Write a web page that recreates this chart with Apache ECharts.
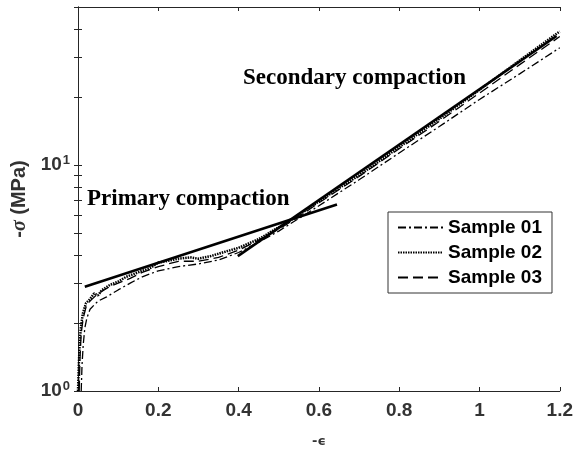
<!DOCTYPE html>
<html>
<head>
<meta charset="utf-8">
<script src="https://cdn.jsdelivr.net/npm/echarts@6/dist/echarts.min.js"></script>
<style>
  html, body { margin: 0; padding: 0; background: #fff; }
  #ch { width: 576px; height: 453px; }
</style>
</head>
<body>
<div id="ch"></div>
<script>
// strain (-eps) and stress (-sigma, MPa)
var s01x = [0.008, 0.010, 0.013, 0.017, 0.022, 0.030, 0.040, 0.050, 0.070, 0.100, 0.130, 0.160, 0.200, 0.250, 0.300, 0.350, 0.400, 0.450, 0.500, 0.550, 0.600, 0.700, 0.800, 0.900, 1.000, 1.100, 1.200];
var s01y = [1.00, 1.30, 1.60, 1.90, 2.10, 2.30, 2.40, 2.50, 2.60, 2.80, 3.00, 3.20, 3.40, 3.55, 3.65, 3.80, 4.10, 4.55, 5.10, 5.80, 6.60, 8.60, 11.3, 14.8, 19.5, 25.3, 33.0];

var s02x = [0.000, 0.002, 0.004, 0.007, 0.012, 0.020, 0.030, 0.040, 0.050, 0.060, 0.080, 0.100, 0.120, 0.150, 0.180, 0.200, 0.220, 0.250, 0.280, 0.300, 0.330, 0.360, 0.400, 0.450, 0.500, 0.550, 0.600, 0.650, 0.700, 0.800, 0.900, 1.000, 1.100, 1.200];
var s02y = [1.00, 1.30, 1.60, 1.90, 2.20, 2.45, 2.55, 2.70, 2.65, 2.80, 2.95, 3.05, 3.20, 3.35, 3.50, 3.70, 3.75, 3.85, 3.90, 3.85, 3.95, 4.10, 4.30, 4.70, 5.30, 6.00, 6.90, 7.90, 9.00, 12.0, 16.0, 21.5, 29.0, 39.0];

var s03x = [0.003, 0.005, 0.008, 0.013, 0.020, 0.030, 0.050, 0.080, 0.100, 0.130, 0.160, 0.200, 0.250, 0.300, 0.350, 0.400, 0.450, 0.500, 0.550, 0.600, 0.700, 0.800, 0.900, 1.000, 1.100, 1.200];
var s03y = [1.00, 1.40, 1.80, 2.10, 2.35, 2.50, 2.70, 2.90, 3.00, 3.15, 3.35, 3.55, 3.75, 3.75, 3.90, 4.20, 4.65, 5.20, 5.90, 6.80, 8.90, 11.8, 15.6, 20.8, 27.8, 37.0];

// fitted straight lines (in log space)
var primaryX = [0.017, 0.645];
var primaryY = [2.89, 6.68];
var secondaryX = [0.398, 1.192];
var secondaryY = [3.95, 37.2];

var yTicks = [1, 2, 3, 4, 5, 6, 7, 8, 9, 10, 20, 30, 40, 50];
var yLabels = [1, 10];
var sampleNames = ['Sample 01', 'Sample 02', 'Sample 03'];

function zip(xs, ys) {
    var res = [];
    for (var i = 0; i < xs.length; i++) {
        res.push([xs[i], ys[i]]);
    }
    return res;
}

var axisColor = '#262626';
var labelFont = { color: '#333', fontFamily: 'Liberation Sans', fontWeight: 'bold', fontSize: 19 };

var chart = echarts.init(document.getElementById('ch'));
var option = {
    animation: false,
    backgroundColor: '#fff',
    color: ['#000', '#000', '#000', '#000', '#000'],
    grid: { left: 78, right: 16, top: 7, bottom: 58 },
    legend: {
        data: sampleNames,
        orient: 'vertical',
        left: 388,
        top: 212,
        itemWidth: 45,
        itemHeight: 14,
        itemGap: 6,
        padding: [6, 10, 6, 9],
        borderColor: '#333',
        borderWidth: 1,
        backgroundColor: '#fff',
        itemStyle: { opacity: 0 },
        textStyle: { color: '#000', fontFamily: 'Liberation Sans', fontWeight: 'bold', fontSize: 19 }
    },
    xAxis: [
        {
            type: 'value',
            min: 0,
            max: 1.2,
            interval: 0.2,
            name: '-\u03f5',
            nameLocation: 'middle',
            nameGap: 44,
            nameTextStyle: { color: '#333', fontFamily: 'DejaVu Sans', fontWeight: 'bold', fontSize: 13 },
            axisLine: { lineStyle: { color: axisColor, width: 1 } },
            axisTick: { inside: true, length: 4, lineStyle: { color: axisColor } },
            axisLabel: Object.assign({ margin: 10 }, labelFont),
            splitLine: { show: false }
        },
        {
            type: 'value',
            position: 'top',
            min: 0,
            max: 1.2,
            interval: 0.2,
            axisLine: { lineStyle: { color: axisColor, width: 1 } },
            axisTick: { inside: true, length: 4, lineStyle: { color: axisColor } },
            axisLabel: { show: false },
            splitLine: { show: false }
        }
    ],
    yAxis: [
        {
            type: 'log',
            logBase: 10,
            min: 1,
            max: 50,
            name: '{a|-}{i|\u03c3}{a| (MPa)}',
            nameLocation: 'middle',
            nameGap: 45,
            nameRotate: 90,
            nameTextStyle: {
                rich: {
                    a: { color: '#333', fontFamily: 'Liberation Sans', fontWeight: 'bold', fontSize: 20 },
                    i: { color: '#333', fontFamily: 'Liberation Serif', fontStyle: 'italic', fontWeight: 'bold', fontSize: 20 }
                }
            },
            axisLine: { lineStyle: { color: axisColor, width: 1 } },
            axisTick: { inside: true, length: 4, customValues: yTicks, lineStyle: { color: axisColor } },
            axisLabel: {
                customValues: yLabels,
                margin: 8,
                formatter: function (v) {
                    return '{b|10}{s|' + Math.round(Math.log10(v)) + '}';
                },
                rich: {
                    b: { color: '#333', fontFamily: 'Liberation Sans', fontWeight: 'bold', fontSize: 19 },
                    s: { color: '#333', fontFamily: 'Liberation Sans', fontWeight: 'bold', fontSize: 13, verticalAlign: 'bottom', padding: [0, 0, 9, 1] }
                }
            },
            splitLine: { show: false }
        },
        {
            type: 'log',
            logBase: 10,
            min: 1,
            max: 50,
            position: 'right',
            axisLine: { show: true, lineStyle: { color: axisColor, width: 1 } },
            axisTick: { show: true, inside: true, length: 4, customValues: yTicks, lineStyle: { color: axisColor } },
            axisLabel: { show: false },
            splitLine: { show: false }
        }
    ],
    graphic: [
        {
            type: 'text', left: 87, top: 188,
            style: { text: 'Primary compaction', fill: '#000', font: 'bold 23px "Liberation Serif"' }
        },
        {
            type: 'text', left: 243, top: 67,
            style: { text: 'Secondary compaction', fill: '#000', font: 'bold 23px "Liberation Serif"' }
        }
    ],
    series: [
        {
            name: 'Sample 01',
            type: 'line',
            symbol: 'none',
            data: zip(s01x, s01y),
            lineStyle: { color: '#000', width: 1.3, type: [8, 3, 2, 3] },
            z: 3
        },
        {
            name: 'Sample 02',
            type: 'line',
            symbol: 'none',
            data: zip(s02x, s02y),
            lineStyle: { color: '#000', width: 2.5, type: [1.5, 1] },
            z: 3
        },
        {
            name: 'Sample 03',
            type: 'line',
            symbol: 'none',
            data: zip(s03x, s03y),
            lineStyle: { color: '#000', width: 1.3, type: [10, 5] },
            z: 3
        },
        {
            name: 'primary fit',
            type: 'line',
            symbol: 'none',
            data: zip(primaryX, primaryY),
            lineStyle: { color: '#000', width: 2.6 },
            z: 4
        },
        {
            name: 'secondary fit',
            type: 'line',
            symbol: 'none',
            data: zip(secondaryX, secondaryY),
            lineStyle: { color: '#000', width: 2.6 },
            z: 4
        }
    ]
};
chart.setOption(option);
</script>
</body>
</html>
